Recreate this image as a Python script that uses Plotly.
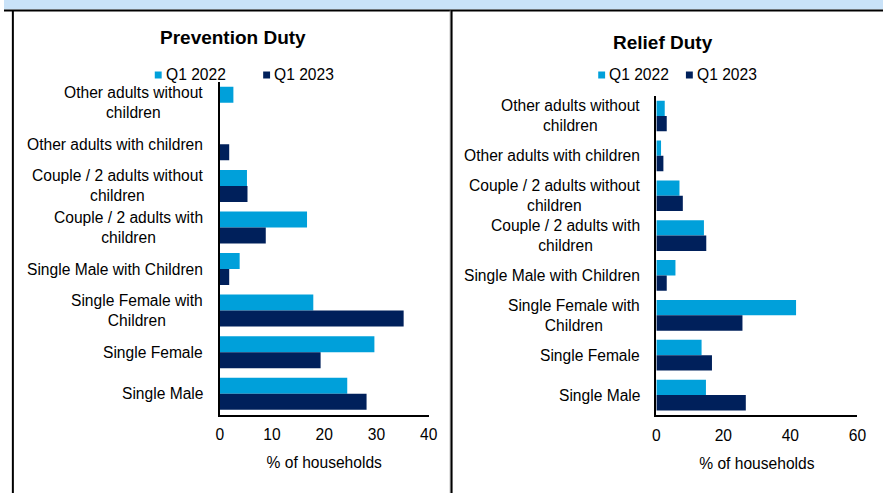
import plotly.graph_objects as go

# Household types, listed top to bottom as they appear on each panel
categories = [
    "Other adults without<br>children",
    "Other adults with children",
    "Couple / 2 adults without<br>children",
    "Couple / 2 adults with<br>children",
    "Single Male with Children",
    "Single Female with<br>Children",
    "Single Female",
    "Single Male",
]
series_names = ["Q1 2022", "Q1 2023"]

# % of households owed each duty
prevention_2022 = [2.6, 0.0, 5.2, 16.7, 3.8, 17.9, 29.6, 24.4]
prevention_2023 = [0.0, 1.8, 5.3, 8.8, 1.8, 35.2, 19.3, 28.1]
relief_2022 = [2.5, 1.4, 6.9, 14.2, 5.7, 41.7, 13.5, 14.8]
relief_2023 = [3.1, 2.1, 7.9, 14.9, 3.1, 25.7, 16.6, 26.7]

panel_titles = ["Prevention Duty", "Relief Duty"]
x_title = "% of households"

W, H = 892, 493
LIGHT = "#00A0DA"
DARK = "#00205B"
FONT = "Liberation Sans, Arial, sans-serif"
FS = 15.6


def px(x):
    return x / W


def py(y):
    return 1 - y / H


fig = go.Figure()
panels = [
    ("x", "y", prevention_2022, prevention_2023),
    ("x2", "y2", relief_2022, relief_2023),
]
for xa, ya, s22, s23 in panels:
    for name, vals, col in ((series_names[0], s22, LIGHT), (series_names[1], s23, DARK)):
        fig.add_trace(go.Bar(
            y=categories, x=vals, name=name, orientation="h",
            marker=dict(color=col, line=dict(width=0)),
            xaxis=xa, yaxis=ya, showlegend=False,
        ))

axis_font = dict(family=FONT, size=FS, color="#000000")
common_x = dict(showline=True, linecolor="#000000", linewidth=2, showgrid=False,
                zeroline=False, ticks="", tickfont=axis_font, fixedrange=True,
                ticklabelstandoff=5,
                title=dict(text=x_title, font=axis_font, standoff=15))
common_y = dict(showline=True, linecolor="#000000", linewidth=2, showgrid=False,
                ticks="", showticklabels=False, autorange="reversed", fixedrange=True)

fig.update_layout(
    width=W, height=H,
    margin=dict(l=0, r=0, t=0, b=0),
    paper_bgcolor="#FFFFFF", plot_bgcolor="#FFFFFF",
    barmode="group", bargap=0.23, bargroupgap=0,
    font=dict(family=FONT, size=FS, color="#000000"),
    xaxis=dict(domain=[px(219), px(431)], range=[0, 40], dtick=10, anchor="y", **common_x),
    yaxis=dict(domain=[py(414.5), py(82)], anchor="x", **common_y),
    xaxis2=dict(domain=[px(662), px(866)], range=[0, 60], dtick=20, anchor="y2", **common_x),
    yaxis2=dict(domain=[py(415), py(95.5)], anchor="x2", **common_y),
)

shapes = [
    # light band along the top with a rule underneath
    dict(type="rect", xref="paper", yref="paper", x0=0, x1=1, y0=py(9.5), y1=1,
         fillcolor="#C9E2F8", line=dict(width=0), layer="below"),
    dict(type="line", xref="paper", yref="paper", x0=0, x1=1, y0=py(10.5), y1=py(10.5),
         line=dict(color="#000000", width=2)),
    # left frame and panel divider
    dict(type="line", xref="paper", yref="paper", x0=px(9), x1=px(9), y0=0, y1=py(10.5),
         line=dict(color="#000000", width=2)),
    dict(type="line", xref="paper", yref="paper", x0=px(452.8), x1=px(452.8), y0=0, y1=py(10.5),
         line=dict(color="#A0A0A0", width=1)),
    dict(type="line", xref="paper", yref="paper", x0=px(454.2), x1=px(454.2), y0=0, y1=py(10.5),
         line=dict(color="#000000", width=2)),
]

annotations = []
# category labels, centred line by line and set right of each axis
for ya, axis_px in (("y", 219), ("y2", 662)):
    for cat in categories:
        annotations.append(dict(text=cat, x=px(axis_px - 15), y=cat, xref="paper", yref=ya,
                                showarrow=False, xanchor="right", yanchor="middle", align="center",
                                font=axis_font))

# panel titles
for title, cx, cy in ((panel_titles[0], 232, 37), (panel_titles[1], 669, 43)):
    annotations.append(dict(text=f"<b>{title}</b>", x=px(cx), y=py(cy), xref="paper", yref="paper",
                            showarrow=False, xanchor="center", yanchor="middle",
                            font=dict(family=FONT, size=19, color="#000000")))

# legends for each panel: small square swatch followed by the series name
legend_rows = [
    ((153, LIGHT, series_names[0]), (263, DARK, series_names[1])),
    ((603, LIGHT, series_names[0]), (692, DARK, series_names[1])),
]
for row in legend_rows:
    for sx, col, name in row:
        shapes.append(dict(type="rect", xref="paper", yref="paper",
                           x0=px(sx), x1=px(sx + 7), y0=py(78.5), y1=py(71.5),
                           fillcolor=col, line=dict(width=0)))
        annotations.append(dict(text=name, x=px(sx + 9), y=py(75), xref="paper", yref="paper",
                                showarrow=False, xanchor="left", yanchor="middle",
                                font=dict(family=FONT, size=FS, color="#000000")))

fig.update_layout(shapes=shapes, annotations=annotations)
fig.write_html("out.html")
